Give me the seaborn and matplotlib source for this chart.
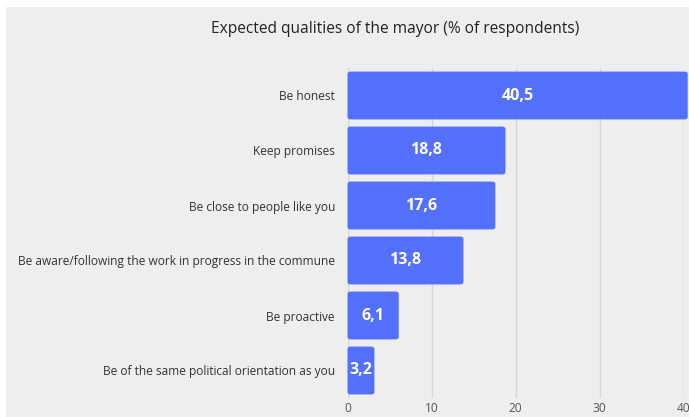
import matplotlib
matplotlib.use("Agg")
import matplotlib.pyplot as plt
import seaborn as sns
import pandas as pd
from matplotlib.patches import Rectangle, FancyBboxPatch

categories = [
    "Be honest",
    "Keep promises",
    "Be close to people like you",
    "Be aware/following the work in progress in the commune",
    "Be proactive",
    "Be of the same political orientation as you",
]
values = [40.5, 18.8, 17.6, 13.8, 6.1, 3.2]
value_labels = ["40,5", "18,8", "17,6", "13,8", "6,1", "3,2"]
xticks = [0, 10, 20, 30, 40]
title = "Expected qualities of the mayor (% of respondents)"

sns.set_theme(style="white")
plt.rcParams['font.family'] = ['Open Sans', 'DejaVu Sans']

BG = "#eeeeee"
BAR = "#5470ff"

fig = plt.figure(figsize=(6.89, 4.17), dpi=100, facecolor="white")
fig.patches.append(Rectangle((6 / 689, 0), 1, 1 - 7 / 417, transform=fig.transFigure,
                             facecolor=BG, edgecolor="none", zorder=-10))
ax = fig.add_axes([347.5 / 689, 1 - 398 / 417, (683.5 - 347.5) / 689, (398 - 68) / 417])
ax.set_facecolor(BG)

df = pd.DataFrame({"cat": categories, "val": values})
sns.barplot(data=df, x="val", y="cat", color=BAR, saturation=1, width=0.87, ax=ax, zorder=3)

# rounded corners
patches = list(ax.patches)
for p in patches:
    x, y, w, h = p.get_x(), p.get_y(), p.get_width(), p.get_height()
    fp = FancyBboxPatch((x, y), w, h, boxstyle="round,pad=0,rounding_size=0.35",
                        mutation_aspect=0.12, facecolor=BAR, edgecolor="none",
                        zorder=3, clip_on=False)
    p.remove()
    ax.add_patch(fp)

for i, (v, lab) in enumerate(zip(values, value_labels)):
    ax.text(v / 2, i, lab, ha="center", va="center", color="white",
            fontsize=11.5, fontweight="bold", zorder=5)

ax.set_xlim(0, 40)
ax.set_ylim(5.5, -0.5)
ax.set_xticks(xticks)
ax.set_xticklabels([str(t) for t in xticks])
ax.xaxis.grid(True, color="#d6d6d6", linewidth=1, zorder=0)
ax.set_axisbelow(True)
for s in ax.spines.values():
    s.set_visible(False)
ax.axvline(0, color="#d6d6d6", linewidth=1, zorder=1)
ax.set_xlabel("")
ax.set_ylabel("")
ax.tick_params(axis="x", length=0, labelsize=8.6, labelcolor="#555555", pad=3)
ax.tick_params(axis="y", length=0, labelsize=8.6, labelcolor="#333333", pad=9)

fig.text(395 / 689, 1 - 29 / 417, title, ha="center", va="center", fontsize=11.2, color="#222222")

fig.savefig("out.png", dpi=100, facecolor=fig.get_facecolor())
